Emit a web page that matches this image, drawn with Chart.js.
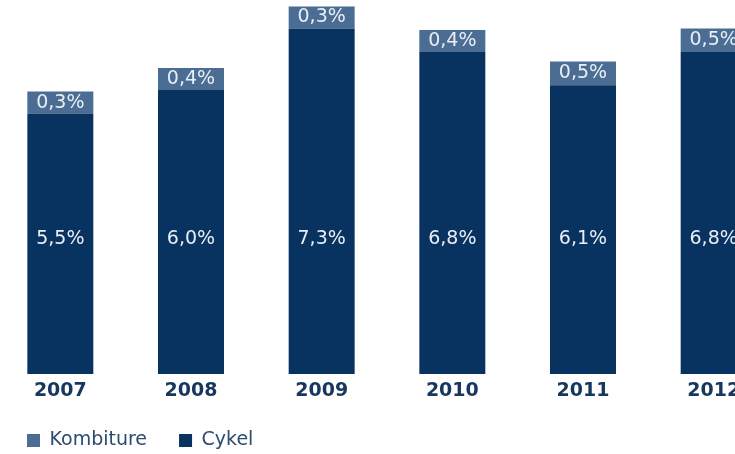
<!DOCTYPE html>
<html>
<head>
<meta charset="utf-8">
<script src="https://cdn.jsdelivr.net/npm/chart.js"></script>
<style>
  html, body { margin: 0; padding: 0; background: #ffffff; overflow: hidden; width: 735px; height: 454px; }
  #wrap { position: absolute; left: -5px; top: 0; width: 784px; height: 460px; }
</style>
</head>
<body>
<div id="wrap"><canvas id="c" width="784" height="460"></canvas></div>
<script>
const years = ['2007', '2008', '2009', '2010', '2011', '2012'];
const cykel = [5.5, 6.0, 7.3, 6.8, 6.1, 6.8];
const kombiture = [0.3, 0.4, 0.3, 0.4, 0.5, 0.5];
const seriesNames = ['Cykel', 'Kombiture'];

const FONT = '"DejaVu Sans", "Liberation Sans", sans-serif';
const fmt = v => v.toFixed(1).replace('.', ',') + '%';

const valueLabels = {
  id: 'valueLabels',
  afterDatasetsDraw(chart) {
    const { ctx, chartArea } = chart;
    ctx.save();
    ctx.font = '19px ' + FONT;
    ctx.textAlign = 'center';
    ctx.textBaseline = 'middle';
    ctx.fillStyle = '#e8eef5';
    chart.data.datasets.forEach((ds, di) => {
      const meta = chart.getDatasetMeta(di);
      meta.data.forEach((bar, i) => {
        let y;
        if (di === 0) {
          y = chartArea.bottom - 0.36 * chartArea.height;
        } else {
          y = (bar.y + bar.base) / 2;
        }
        ctx.fillText(fmt(ds.data[i]), bar.x, y);
      });
    });
    ctx.restore();
  }
};

new Chart(document.getElementById('c'), {
  type: 'bar',
  data: {
    labels: years,
    datasets: [
      { label: seriesNames[0], data: cykel, backgroundColor: '#083260', borderWidth: 0 },
      { label: seriesNames[1], data: kombiture, backgroundColor: '#4b6d93', borderWidth: 0, minBarLength: 22 }
    ]
  },
  options: {
    responsive: false,
    animation: false,
    events: [],
    layout: { padding: 0 },
    datasets: { bar: { categoryPercentage: 1, barPercentage: 0.505 } },
    scales: {
      x: {
        stacked: true,
        grid: { display: false, drawTicks: false },
        border: { display: false },
        ticks: { color: '#17375e', padding: 6, font: { family: FONT, size: 19, weight: 'bold' } },
        afterFit(scale) { scale.height = 25; }
      },
      y: {
        stacked: true,
        display: false,
        min: 0,
        max: 7.9
      }
    },
    plugins: {
      tooltip: { enabled: false },
      legend: {
        position: 'bottom',
        align: 'start',
        reverse: true,
        labels: {
          boxWidth: 13,
          boxHeight: 13,
          padding: 32,
          color: '#2b4b70',
          font: { family: FONT, size: 19 }
        }
      }
    }
  },
  plugins: [valueLabels]
});
</script>
</body>
</html>
